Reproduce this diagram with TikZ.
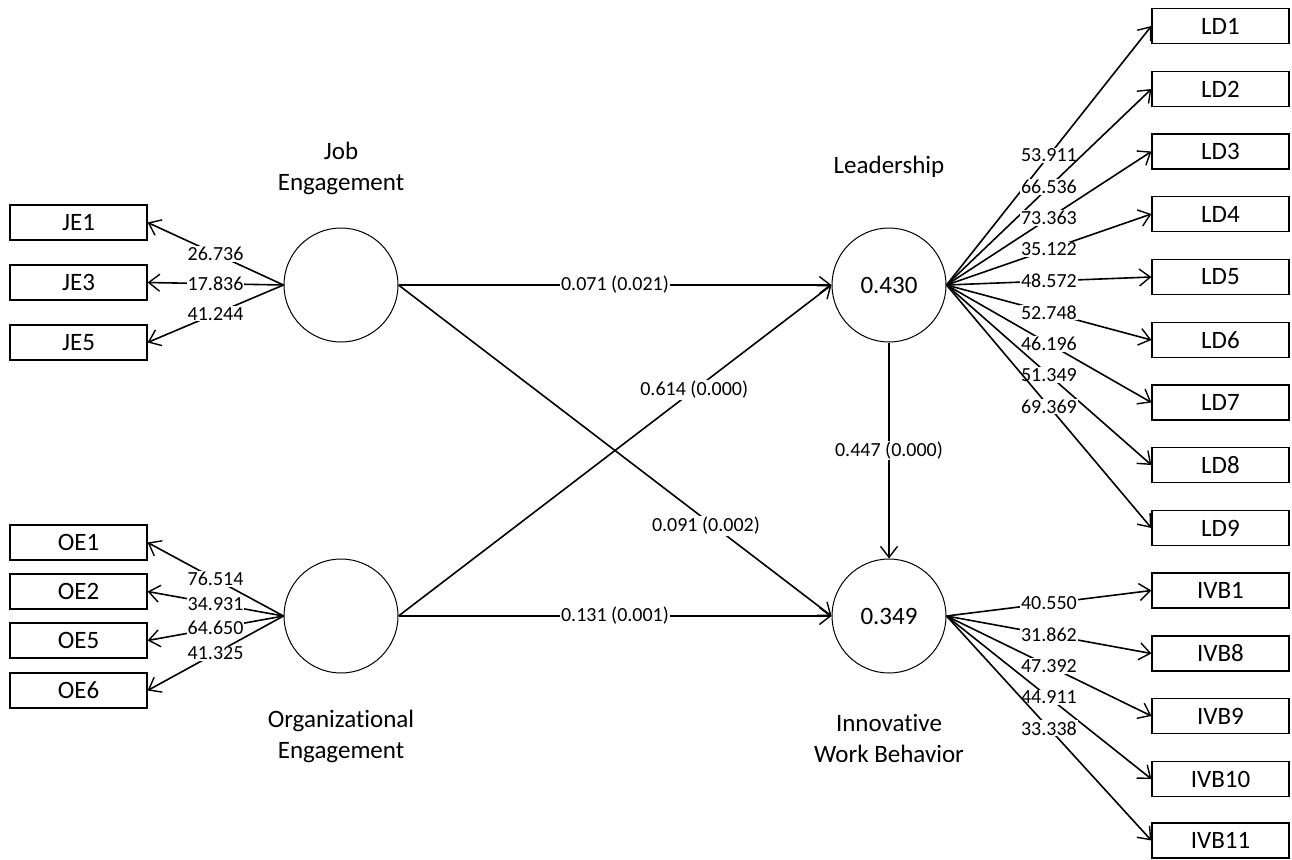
\documentclass[tikz,border=0pt]{standalone}
\usepackage{fontspec}
\setmainfont{Carlito}[Ligatures={NoCommon,NoContextual},RawFeature={-liga;-clig;-calt}]
\usetikzlibrary{arrows.meta}
\begin{document}
\begin{tikzpicture}[x=1pt,y=-1pt,
  latent/.style={circle,draw,line width=1pt,minimum size=114pt,inner sep=0pt,font=\fontsize{25}{30}\selectfont},
  ind/.style={rectangle,draw,line width=1.2pt,minimum width=137pt,minimum height=35pt,inner sep=0pt,font=\fontsize{25}{30}\selectfont},
  ttl/.style={align=center,font=\fontsize{25}{31}\selectfont,inner sep=0pt},
  con/.style={line width=1.6pt,-{Straight Barb[length=11pt,width=17pt,line width=1.4pt]}},
  lab/.style={fill=white,inner sep=1pt,font=\fontsize{20}{24}\selectfont}]
\useasboundingbox (0,0) rectangle (1292,859);
% latent variables
\node[latent] (JE) at (341,285) {};
\node[latent] (OE) at (341,616) {};
\node[latent] (LD) at (889,285) {0.430};
\node[latent] (IVB) at (889,616) {0.349};
% titles
\node[ttl] (tJE) at (341,168) {Job\\Engagement};
\node[ttl] (tOE) at (341,736) {Organizational\\Engagement};
\node[ttl] (tLD) at (889,167) {Leadership};
\node[ttl] (tIVB) at (889,738) {Innovative\\Work Behavior};
% indicators JE
\node[ind] (JE1) at (78.5,222.5) {JE1};
\node[ind] (JE3) at (78.5,282.5) {JE3};
\node[ind] (JE5) at (78.5,342.5) {JE5};
% indicators OE
\node[ind] (OE1) at (78.5,542.5) {OE1};
\node[ind] (OE2) at (78.5,591.5) {OE2};
\node[ind] (OE5) at (78.5,640.5) {OE5};
\node[ind] (OE6) at (78.5,690.5) {OE6};
% indicators LD
\node[ind] (LD1) at (1220.5,26) {LD1};
\node[ind] (LD2) at (1220.5,89) {LD2};
\node[ind] (LD3) at (1220.5,151.5) {LD3};
\node[ind] (LD4) at (1220.5,214) {LD4};
\node[ind] (LD5) at (1220.5,277) {LD5};
\node[ind] (LD6) at (1220.5,340) {LD6};
\node[ind] (LD7) at (1220.5,402.5) {LD7};
\node[ind] (LD8) at (1220.5,465) {LD8};
\node[ind] (LD9) at (1220.5,528) {LD9};
% indicators IVB
\node[ind] (IVB1) at (1220.5,590.5) {IVB1};
\node[ind] (IVB8) at (1220.5,653.5) {IVB8};
\node[ind] (IVB9) at (1220.5,716) {IVB9};
\node[ind] (IVB10) at (1220.5,779) {IVB10};
\node[ind] (IVB11) at (1220.5,840.5) {IVB11};
% JE loadings
\draw[con] (JE.west) -- node[lab] {26.736} (JE1.east);
\draw[con] (JE.west) -- node[lab] {17.836} (JE3.east);
\draw[con] (JE.west) -- node[lab] {41.244} (JE5.east);
% OE loadings
\draw[con] (OE.west) -- node[lab] {76.514} (OE1.east);
\draw[con] (OE.west) -- node[lab] {34.931} (OE2.east);
\draw[con] (OE.west) -- node[lab] {64.650} (OE5.east);
\draw[con] (OE.west) -- node[lab] {41.325} (OE6.east);
% LD loadings
\draw[con] (LD.east) -- node[lab] {53.911} (LD1.west);
\draw[con] (LD.east) -- node[lab] {66.536} (LD2.west);
\draw[con] (LD.east) -- node[lab] {73.363} (LD3.west);
\draw[con] (LD.east) -- node[lab] {35.122} (LD4.west);
\draw[con] (LD.east) -- node[lab] {48.572} (LD5.west);
\draw[con] (LD.east) -- node[lab] {52.748} (LD6.west);
\draw[con] (LD.east) -- node[lab] {46.196} (LD7.west);
\draw[con] (LD.east) -- node[lab] {51.349} (LD8.west);
\draw[con] (LD.east) -- node[lab] {69.369} (LD9.west);
% IVB loadings
\draw[con] (IVB.east) -- node[lab] {40.550} (IVB1.west);
\draw[con] (IVB.east) -- node[lab] {31.862} (IVB8.west);
\draw[con] (IVB.east) -- node[lab] {47.392} (IVB9.west);
\draw[con] (IVB.east) -- node[lab] {44.911} (IVB10.west);
\draw[con] (IVB.east) -- node[lab] {33.338} (IVB11.west);
% structural paths
\draw[con] (JE.east) -- node[lab] {0.071 (0.021)} (LD.west);
\draw[con] (OE.east) -- node[lab] {0.131 (0.001)} (IVB.west);
\draw[con] (JE.east) -- node[lab,pos=0.71,yshift=-6pt] {0.091 (0.002)} (IVB.west);
\draw[con] (OE.east) -- node[lab,pos=0.683] {0.614 (0.000)} (LD.west);
\draw[con] (LD.south) -- node[lab] {0.447 (0.000)} (IVB.north);
\end{tikzpicture}
\end{document}
